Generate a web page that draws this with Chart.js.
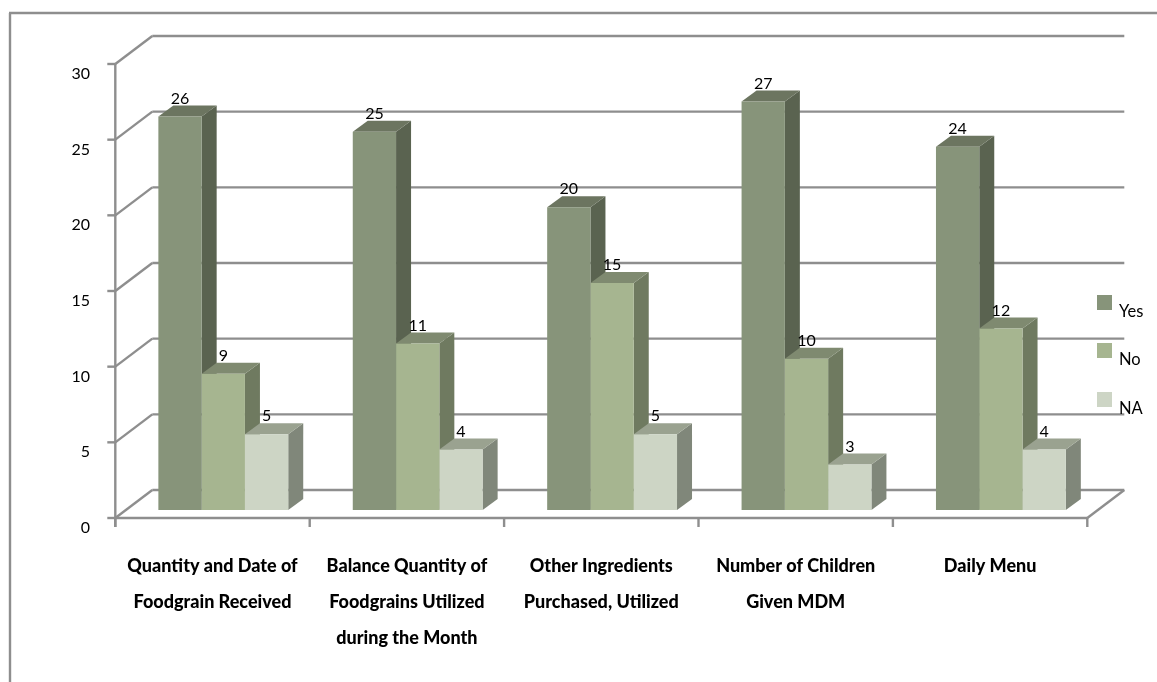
<!DOCTYPE html>
<html><head><meta charset="utf-8">
<style>html,body{margin:0;padding:0;background:#fff;overflow:hidden}canvas{display:block}</style>
<script src="https://cdn.jsdelivr.net/npm/chart.js@4"></script>
</head><body><canvas id="c" width="1157" height="682"></canvas>
<script>
const categories = [
  ["Quantity and Date of","Foodgrain Received"],
  ["Balance Quantity of","Foodgrains Utilized","during the Month"],
  ["Other Ingredients","Purchased, Utilized"],
  ["Number of Children","Given MDM"],
  ["Daily Menu"]
];
const yesValues = [26,25,20,27,24];
const noValues  = [9,11,15,10,12];
const naValues  = [5,4,5,3,4];
const seriesNames = ["Yes","No","NA"];
const frontColors = ["#87947a","#a6b590","#cdd5c5"];
const sideColors  = ["#5a6350","#6f7a60","#80877a"];
const topColors   = ["#6c7560","#7f8a70","#9aa290"];
const lineColor = "#8e8e8e";
const FONT = "Lato, Carlito, Calibri, sans-serif";
// depth geometry relative to the plane the bars stand on
const DX = 15, DY = -11;          // bar depth
const FX = -10.8, FY = 8;         // front edge of the floor
const BX = 26.2, BY = -20;        // back wall

const depth3d = {
  id:'depth3d',
  beforeDatasetsDraw(chart){
    const {ctx, scales:{x,y}, chartArea:a} = chart;
    ctx.save();
    ctx.strokeStyle = lineColor; ctx.lineWidth = 2.4;
    const line=(x1,y1,x2,y2)=>{ctx.beginPath();ctx.moveTo(x1,y1);ctx.lineTo(x2,y2);ctx.stroke();};
    // frame
    line(10,682,10,13); line(9,13,1157,13);
    // walls and gridlines
    for(const t of y.ticks){
      const py=y.getPixelForValue(t.value);
      line(a.left+FX-8,py+FY,a.left+FX,py+FY);
      line(a.left+FX,py+FY,a.left+BX,py+BY);
      line(a.left+BX,py+BY,a.right+BX,py+BY);
    }
    const y0=y.getPixelForValue(0);
    line(a.left+FX,y.getPixelForValue(30)+FY,a.left+FX,y0+FY+9);
    line(a.left+FX,y0+FY,a.right+FX,y0+FY);
    line(a.right+FX,y0+FY,a.right+BX,y0+BY);
    const step=(a.right-a.left)/categories.length;
    for(let i=0;i<=categories.length;i++){
      const px=a.left+FX+step*i;
      line(px,y0+FY,px,y0+FY+9);
    }
    // depth faces of the bars
    for(let c=0;c<categories.length;c++){
      chart.data.datasets.forEach((ds,d)=>{
        const el=chart.getDatasetMeta(d).data[c];
        const half=el.width/2, l=el.x-half, r=el.x+half, t=el.y, b=el.base;
        ctx.fillStyle=sideColors[d];
        ctx.beginPath();ctx.moveTo(r,t);ctx.lineTo(r+DX,t+DY);ctx.lineTo(r+DX,b+DY);ctx.lineTo(r,b);ctx.closePath();ctx.fill();
        ctx.fillStyle=topColors[d];
        ctx.beginPath();ctx.moveTo(l,t);ctx.lineTo(l+DX,t+DY);ctx.lineTo(r+DX,t+DY);ctx.lineTo(r,t);ctx.closePath();ctx.fill();
      });
    }
    ctx.restore();
  },
  afterDatasetsDraw(chart){
    const {ctx} = chart;
    ctx.save();
    ctx.font = "16px "+FONT; ctx.fillStyle="#000"; ctx.textAlign="center"; ctx.textBaseline="middle";
    chart.data.datasets.forEach((ds,d)=>{
      chart.getDatasetMeta(d).data.forEach((el,i)=>{
        ctx.fillText(String(ds.data[i]), el.x, el.y-18);
      });
    });
    // legend
    const tops=[295,343,392];
    chart.data.datasets.forEach((ds,d)=>{
      ctx.fillStyle=frontColors[d];
      ctx.fillRect(1097,tops[d],15,15);
      ctx.fillStyle="#000"; ctx.textAlign="left"; ctx.font="16.5px "+FONT;
      ctx.fillText(ds.label,1119,tops[d]+17);
    });
    ctx.restore();
  }
};

new Chart(document.getElementById('c'),{
  type:'bar',
  data:{labels:categories,datasets:[
    {label:seriesNames[0],data:yesValues,backgroundColor:frontColors[0]},
    {label:seriesNames[1],data:noValues,backgroundColor:frontColors[1]},
    {label:seriesNames[2],data:naValues,backgroundColor:frontColors[2]}
  ]},
  options:{
    responsive:false,animation:false,
    layout:{padding:{left:0.3,right:58.9,top:56,bottom:0}},
    datasets:{bar:{categoryPercentage:0.668,barPercentage:1}},
    plugins:{legend:{display:false},tooltip:{enabled:false},title:{display:false}},
    scales:{
      x:{
        grid:{display:false,drawTicks:false},border:{display:false},
        afterFit(s){s.height=172;},
        ticks:{autoSkip:false,maxRotation:0,minRotation:0,padding:38.5,labelOffset:-10.8,color:"#000",
          font:{family:FONT,size:18,weight:"900",lineHeight:"36px"}}
      },
      y:{
        min:0,max:30,
        grid:{display:false,drawTicks:false},border:{display:false},
        afterFit(s){s.width=125.8;},
        ticks:{stepSize:5,padding:36,labelOffset:18,color:"#000",font:{family:FONT,size:16}}
      }
    }
  },
  plugins:[depth3d]
});
</script></body></html>
